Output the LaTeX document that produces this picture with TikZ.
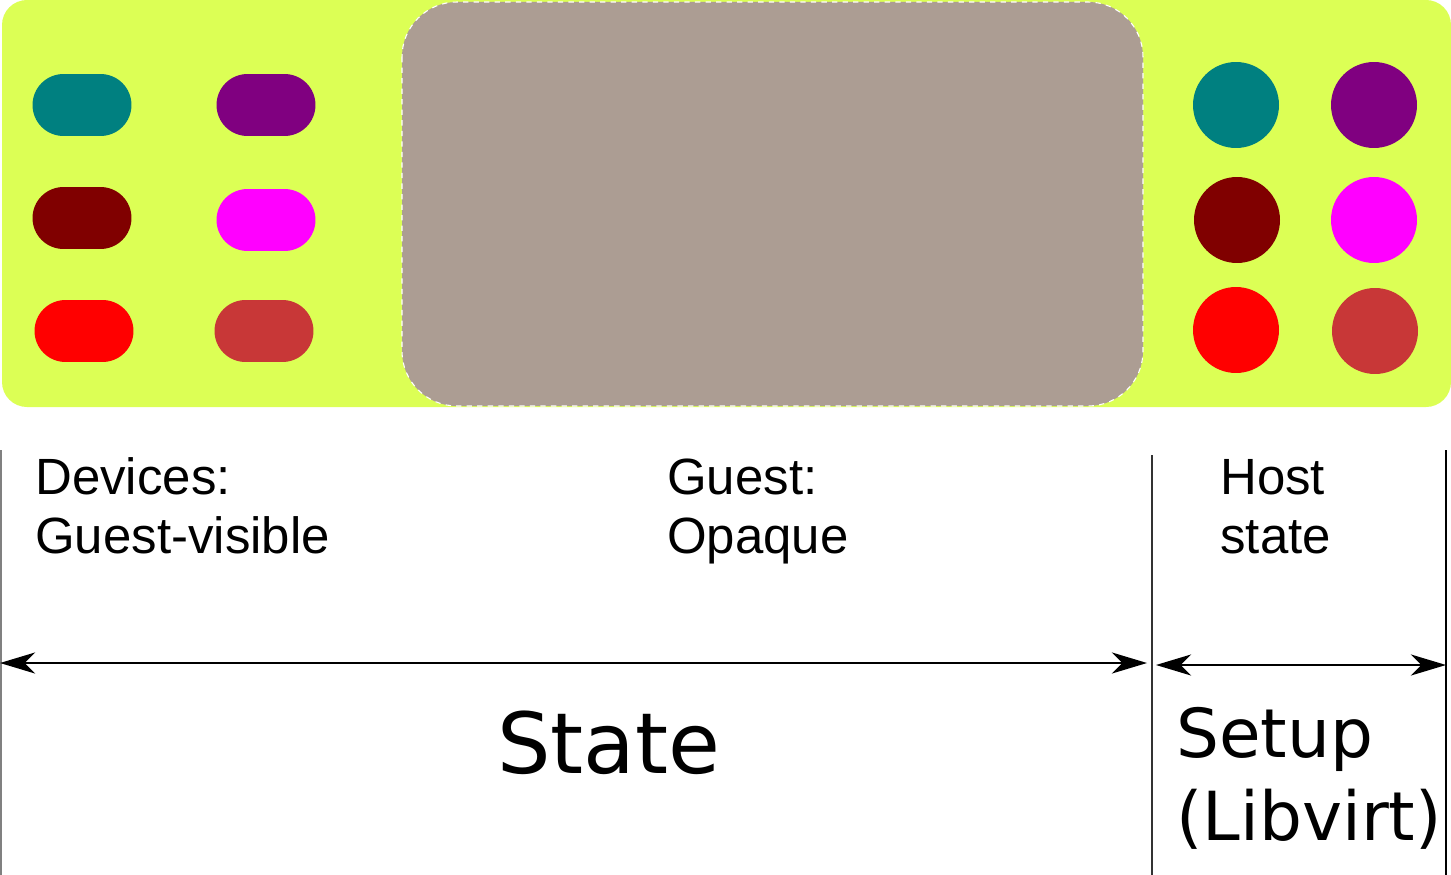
\documentclass[tikz,border=0pt]{standalone}
\usepackage{fontspec}
\setmainfont{Liberation Sans}
\newfontfamily\dejavusans{DejaVu Sans}
\usepackage{tikz}
\usetikzlibrary{arrows.meta,shapes.misc}

\definecolor{limebg}{HTML}{DCFF55}
\definecolor{guestgray}{HTML}{AC9D93}
\definecolor{tealc}{HTML}{008080}
\definecolor{purplec}{HTML}{800080}
\definecolor{maroonc}{HTML}{800000}
\definecolor{magentac}{HTML}{FF00FF}
\definecolor{redc}{HTML}{FF0000}
\definecolor{brick}{HTML}{C83737}

\begin{document}
\begin{tikzpicture}[x=0.02cm, y=-0.02cm,
    >={Stealth[length=20pt,width=12pt,inset=6pt]},
    pill/.style={rounded rectangle, minimum width=1.98cm, minimum height=1.24cm, inner sep=0pt},
    dot/.style={circle, minimum size=1.72cm, inner sep=0pt},
    smalltext/.style={font=\fontsize{29}{33.5}\selectfont, align=left, inner sep=0pt, anchor=base west},
    bigtext/.style={font=\dejavusans\fontsize{38.5}{47}\selectfont, align=left, inner sep=0pt, anchor=base west}]
  \useasboundingbox (0,0) rectangle (1451,875);

  % board and guest area
  \fill[limebg, rounded corners=0.5cm] (2,0) rectangle (1451,407);
  \filldraw[fill=guestgray, draw=white, dashed, line width=0.6pt, rounded corners=1.1cm]
    (402,2) rectangle (1143,406);

  % guest-visible devices
  \node[pill, fill=tealc]    (dev1) at (82,105) {};
  \node[pill, fill=purplec]  (dev2) at (266,105) {};
  \node[pill, fill=maroonc]  (dev3) at (82,218) {};
  \node[pill, fill=magentac] (dev4) at (266,220) {};
  \node[pill, fill=redc]     (dev5) at (84,331) {};
  \node[pill, fill=brick]    (dev6) at (264,331) {};

  % host side
  \node[dot, fill=tealc]    (host1) at (1236,105) {};
  \node[dot, fill=purplec]  (host2) at (1374,105) {};
  \node[dot, fill=maroonc]  (host3) at (1237,220) {};
  \node[dot, fill=magentac] (host4) at (1374,220) {};
  \node[dot, fill=redc]     (host5) at (1236,330) {};
  \node[dot, fill=brick]    (host6) at (1375,331) {};

  % labels (anchored at the baseline of the last line)
  \node[smalltext] (devlbl)   at (35,553)   {Devices:\\Guest-visible};
  \node[smalltext] (guestlbl) at (667,553)  {Guest:\\Opaque};
  \node[smalltext] (hostlbl)  at (1220,553) {Host\\state};

  % dividers
  \draw[gray, line width=1.1pt] (1,450) -- (1,875);
  \draw[black!80, line width=1.1pt] (1152,455) -- (1152,875);
  \draw[line width=1.1pt] (1446,450) -- (1446,875);

  \coordinate (stateL) at (0,663);
  \coordinate (stateR) at (1147,663);
  \coordinate (setupL) at (1156,665);
  \coordinate (setupR) at (1446,665);
  \draw[<->, line width=1.1pt] (stateL) -- (stateR);
  \draw[<->, line width=1.1pt] (setupL) -- (setupR);

  \node[bigtext, font=\dejavusans\fontsize{48}{52}\selectfont] (statelbl) at (497,773) {State};
  \node[bigtext] (setuplbl) at (1176,840) {Setup\\(Libvirt)};
\end{tikzpicture}
\end{document}
